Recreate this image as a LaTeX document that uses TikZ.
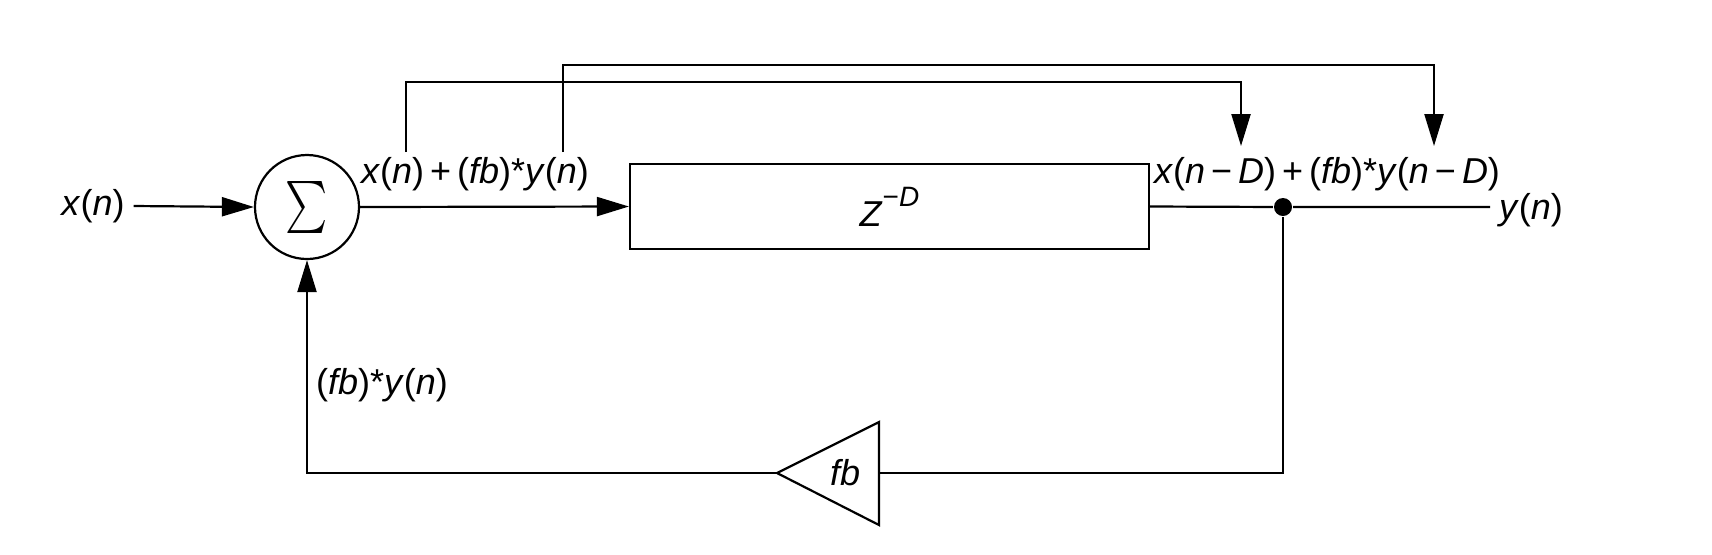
\documentclass[tikz,border=0pt]{standalone}
\usepackage{fontspec}
\setmainfont{Liberation Sans}
\usetikzlibrary{arrows.meta}
\begin{document}
\begin{tikzpicture}[x=0.5pt,y=-0.5pt, line width=1.1pt,
  >={Triangle[length=16pt,width=9.5pt]},
  lbl/.style={inner sep=0pt, font=\fontsize{18}{21}\selectfont}]
\useasboundingbox[fill=white] (0,0) rectangle (1712,554);
% nodes
\node[lbl] (xin) at (93,206) {\textit{x}(\textit{n})};
\node[circle,draw,minimum size=52pt,inner sep=0pt] (sum) at (307,207) {\scalebox{2.0}[2.6]{$\sum$}};
\node[draw,minimum width=259.5pt,minimum height=42.5pt,inner sep=0pt,font=\fontsize{18}{21}\selectfont] (delay) at (889.5,206.5) {\textit{Z}\raisebox{0.55em}{\fontsize{14}{16}\selectfont−\textit{D}}};
\node[circle,fill,inner sep=0pt,minimum size=9pt] (dot) at (1283,207) {};
\coordinate (yout) at (1490,207);
\node[lbl,anchor=west] (ylbl) at (1498,210) {\textit{y}(\textit{n})};
\node[lbl] (l1) at (475,174) {\textit{x}(\textit{n})\,+\,(\textit{fb})*\textit{y}(\textit{n})};
\node[lbl] (l2) at (1327,174) {\textit{x}(\textit{n}\,−\,\textit{D})\,+\,(\textit{fb})*\textit{y}(\textit{n}\,−\,\textit{D})};
\node[lbl] (l3) at (382,385) {(\textit{fb})*\textit{y}(\textit{n})};
% gain triangle
\coordinate (gin) at (879,473);
\coordinate (gout) at (777,473);
\draw (879,422) -- (879,525) -- (gout) -- cycle;
\node[lbl] (fbl) at (845,473) {\textit{fb}};
% connectors
\draw[->] ([xshift=4pt]xin.east) -- (sum.west);
\draw[->] (sum.east) -- (delay.west);
\draw (delay.east) -- (dot) -- (yout);
\draw (dot) |- (gin);
\draw[->] (gout) -| (sum.south);
\coordinate (a1) at (406,152);
\coordinate (a2) at (1241,146);
\coordinate (b1) at (563,152);
\coordinate (b2) at (1434,146);
\draw[->] (a1) -- (406,82) -| (a2);
\draw[->] (b1) -- (563,65) -| (b2);
\end{tikzpicture}
\end{document}
